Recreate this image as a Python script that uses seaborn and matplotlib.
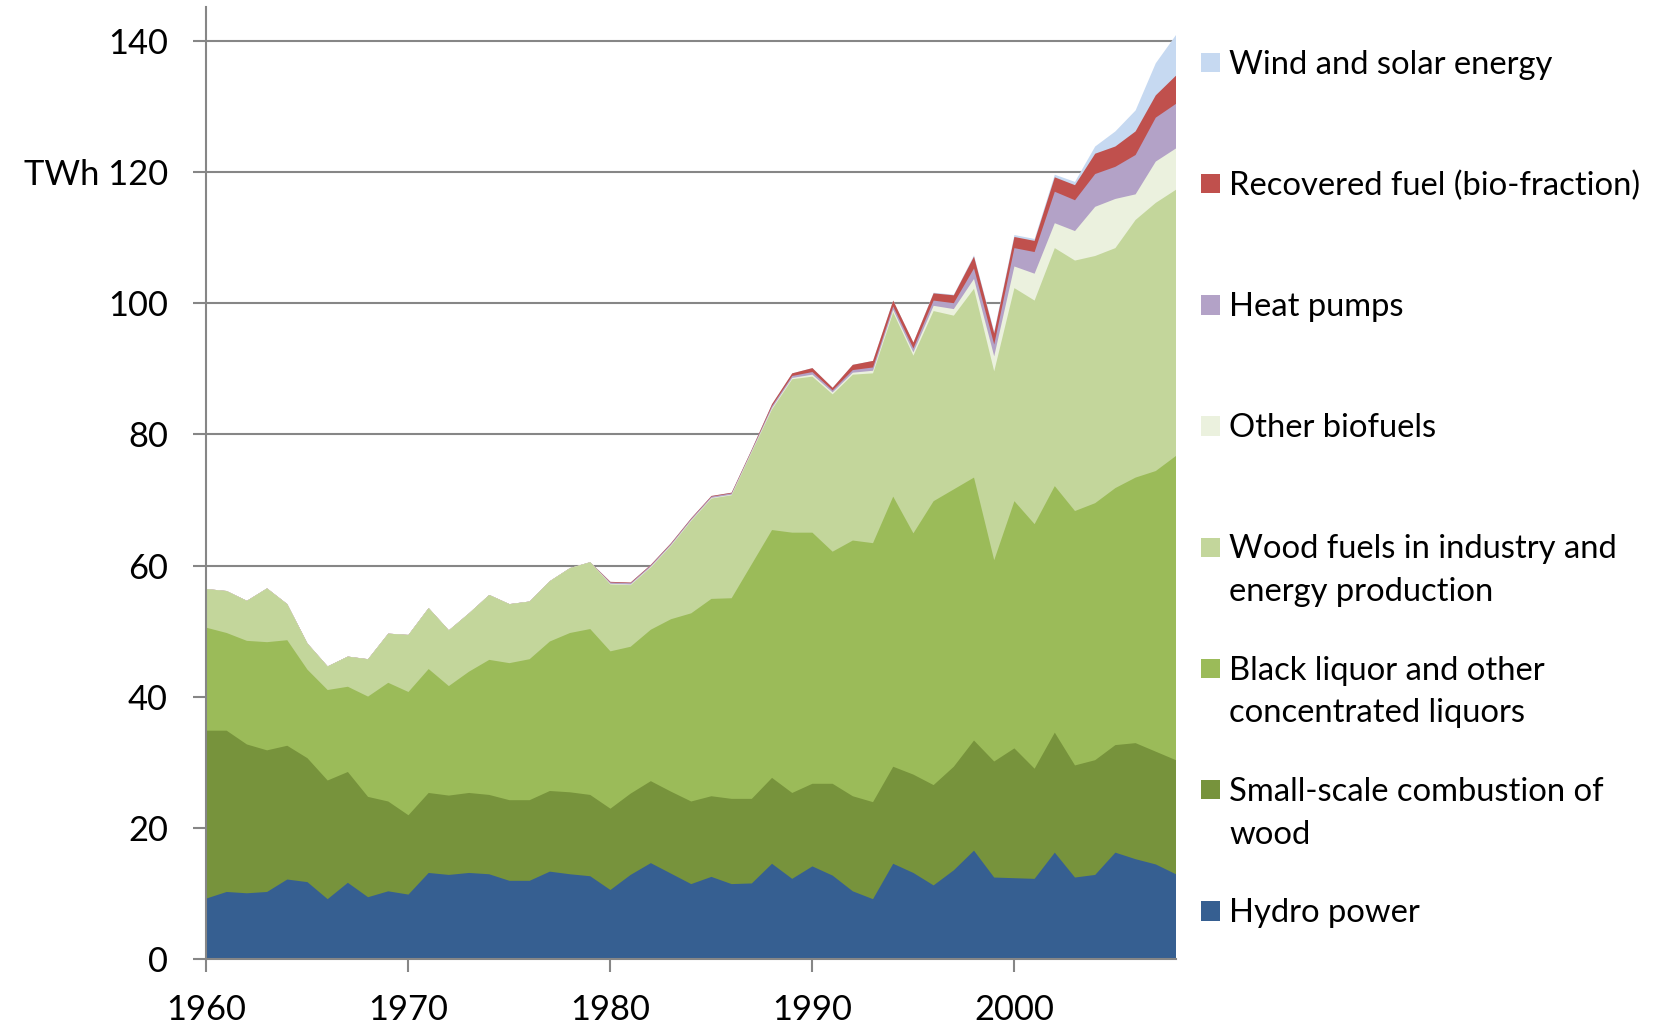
import matplotlib
matplotlib.use("Agg")
import matplotlib.pyplot as plt
import seaborn as sns
import numpy as np
import pandas as pd
from matplotlib.patches import Rectangle

# ---------------- data (TWh) ----------------
years = list(range(1960, 2009))

hydro_power = [
    9.3, 10.3, 10.1, 10.3, 12.2, 11.8, 9.2, 11.7, 9.5, 10.4,
    9.9, 13.2, 12.9, 13.2, 13.0, 12.0, 12.0, 13.4, 13.0, 12.7,
    10.6, 12.9, 14.7, 13.1, 11.5, 12.6, 11.5, 11.6, 14.6, 12.3,
    14.2, 12.8, 10.4, 9.2, 14.6, 13.2, 11.3, 13.6, 16.6, 12.5,
    12.4, 12.3, 16.3, 12.5, 12.9, 16.3, 15.3, 14.5, 13.0]

small_scale_wood = [
    25.6, 24.6, 22.7, 21.6, 20.4, 18.9, 18.1, 16.9, 15.3, 13.7,
    12.1, 12.2, 12.1, 12.2, 12.1, 12.3, 12.3, 12.3, 12.5, 12.4,
    12.4, 12.4, 12.5, 12.5, 12.6, 12.3, 13.0, 12.9, 13.1, 13.1,
    12.6, 14.0, 14.5, 14.8, 14.8, 15.0, 15.3, 15.8, 16.8, 17.7,
    19.8, 16.8, 18.3, 17.1, 17.5, 16.4, 17.7, 17.2, 17.4]

black_liquor = [
    15.7, 14.9, 15.8, 16.5, 16.1, 13.5, 13.8, 13.0, 15.3, 18.1,
    18.8, 18.9, 16.7, 18.5, 20.6, 20.9, 21.5, 22.8, 24.3, 25.3,
    24.0, 22.4, 23.1, 26.3, 28.7, 30.1, 30.6, 35.8, 37.8, 39.7,
    38.3, 35.4, 39.0, 39.5, 41.2, 36.8, 43.3, 42.3, 40.1, 30.7,
    37.7, 37.3, 37.6, 38.8, 39.2, 39.2, 40.5, 42.8, 46.4]

wood_fuels_industry = [
    5.9, 6.4, 6.1, 8.2, 5.5, 4.0, 3.6, 4.6, 5.7, 7.5,
    8.7, 9.3, 8.5, 8.9, 9.9, 9.0, 8.8, 9.2, 9.9, 10.2,
    10.2, 9.4, 9.5, 11.2, 14.1, 15.3, 15.7, 17.1, 18.4, 23.4,
    23.8, 24.0, 25.3, 25.9, 28.1, 27.1, 29.0, 26.5, 28.8, 28.8,
    32.5, 34.1, 36.3, 38.2, 37.7, 36.6, 39.3, 40.9, 40.6]

other_biofuels = [
    0, 0, 0, 0, 0, 0, 0, 0, 0, 0,
    0, 0, 0, 0, 0, 0, 0, 0, 0, 0,
    0.1, 0.1, 0.1, 0.1, 0.1, 0.1, 0.1, 0.1, 0.2, 0.2,
    0.3, 0.3, 0.3, 0.4, 0.4, 0.5, 0.8, 1.0, 1.5, 2.3,
    3.3, 4.1, 3.8, 4.5, 7.5, 7.5, 3.9, 6.3, 6.3]

heat_pumps = [
    0, 0, 0, 0, 0, 0, 0, 0, 0, 0,
    0, 0, 0, 0, 0, 0, 0, 0, 0, 0,
    0.2, 0.2, 0.2, 0.2, 0.2, 0.2, 0.2, 0.2, 0.3, 0.3,
    0.4, 0.3, 0.4, 0.5, 0.5, 0.6, 0.8, 0.9, 1.6, 1.8,
    2.8, 3.3, 4.8, 4.7, 5.0, 4.9, 6.0, 6.7, 6.8]

recovered_fuel = [
    0, 0, 0, 0, 0, 0, 0, 0, 0, 0,
    0, 0, 0, 0, 0, 0, 0, 0, 0, 0,
    0.1, 0.1, 0.1, 0.1, 0.1, 0.1, 0.1, 0.1, 0.3, 0.4,
    0.6, 0.4, 0.8, 1.0, 0.9, 0.9, 1.1, 1.2, 1.8, 1.7,
    1.7, 1.7, 2.2, 2.3, 3.1, 3.1, 3.6, 3.4, 4.3]

wind_solar = [
    0, 0, 0, 0, 0, 0, 0, 0, 0, 0,
    0, 0, 0, 0, 0, 0, 0, 0, 0, 0,
    0, 0, 0, 0, 0, 0, 0, 0, 0, 0,
    0, 0, 0, 0, 0, 0, 0.1, 0.1, 0.2, 0.3,
    0.3, 0.3, 0.4, 0.5, 1.1, 2.3, 3.2, 4.9, 6.2]

series_names = ["Hydro power", "Small-scale combustion of wood",
                "Black liquor and other concentrated liquors",
                "Wood fuels in industry and energy production",
                "Other biofuels", "Heat pumps",
                "Recovered fuel (bio-fraction)", "Wind and solar energy"]

y_ticks = [0, 20, 40, 60, 80, 100, 120, 140]
y_tick_labels = ["0", "20", "40", "60", "80", "100", "TWh 120", "140"]
x_ticks = [1960, 1970, 1980, 1990, 2000]
x_tick_labels = ["1960", "1970", "1980", "1990", "2000"]

df = pd.DataFrame({
    series_names[0]: hydro_power,
    series_names[1]: small_scale_wood,
    series_names[2]: black_liquor,
    series_names[3]: wood_fuels_industry,
    series_names[4]: other_biofuels,
    series_names[5]: heat_pumps,
    series_names[6]: recovered_fuel,
    series_names[7]: wind_solar,
}, index=years)

colors = ["#365F91", "#77933C", "#9BBB59", "#C3D69B",
          "#EBF1DE", "#B3A2C7", "#C0504D", "#C6D9F1"]

# legend entries (top to bottom) with line breaks as in the reference
legend_lines = [
    (["Wind and solar energy"], colors[7]),
    (["Recovered fuel (bio-fraction)"], colors[6]),
    (["Heat pumps"], colors[5]),
    (["Other biofuels"], colors[4]),
    (["Wood fuels in industry and", "energy production"], colors[3]),
    (["Black liquor and other", "concentrated liquors"], colors[2]),
    (["Small-scale combustion of", "wood"], colors[1]),
    (["Hydro power"], colors[0]),
]

# ---------------- style ----------------
sns.set_theme(style="white")
plt.rcParams["font.family"] = ["Lato", "DejaVu Sans"]

W, H = 1658, 1029
fig = plt.figure(figsize=(W / 100, H / 100), dpi=100)
fig.patch.set_facecolor("white")
ax = fig.add_axes([206 / W, 1 - 959 / H, (1175.5 - 206) / W, (959 - 7) / H])
ax.set_facecolor("white")

grey = "#868686"

# stacked areas: fill each cumulative top from zero, top-most first (no seams)
cum = np.cumsum(df.values, axis=1)
x = df.index.values
for i in range(len(series_names) - 1, -1, -1):
    ax.fill_between(x, 0, cum[:, i], color=colors[i], linewidth=0,
                    label=series_names[i], zorder=2)

ax.set_xlim(1960, 2008)
ax.set_ylim(0, 145.2)
ax.set_yticks(y_ticks)
ax.set_yticklabels(y_tick_labels)
ax.set_xticks(x_ticks)
ax.set_xticklabels(x_tick_labels)

ax.yaxis.grid(True, color=grey, linewidth=1.5, zorder=0)
ax.xaxis.grid(False)
ax.set_axisbelow(True)

sns.despine(ax=ax, top=True, right=True)
for side in ("left", "bottom"):
    ax.spines[side].set_color(grey)
    ax.spines[side].set_linewidth(1.5)
    ax.spines[side].set_zorder(3)

ax.tick_params(axis="both", which="major", direction="out", length=9.4,
               width=1.5, color=grey, labelsize=24.8, labelcolor="black")
ax.tick_params(axis="y", pad=18)
ax.tick_params(axis="x", pad=16)
ax.tick_params(left=True, bottom=True)

# ---------------- legend (drawn manually to match spacing) ----------------
first_center = 62.5
step = 121.2
for k, (lines, col) in enumerate(legend_lines):
    cy = first_center + k * step
    sq = 19.5
    fig.patches.append(Rectangle((1201 / W, 1 - (cy + sq / 2) / H), sq / W, sq / H,
                                 transform=fig.transFigure, facecolor=col,
                                 edgecolor="none"))
    for j, line in enumerate(lines):
        base = cy + 11 + j * 43
        fig.text(1229 / W, 1 - base / H, line, fontsize=23.6, color="black",
                 ha="left", va="baseline")

fig.savefig("out.png", dpi=100, facecolor="white")
